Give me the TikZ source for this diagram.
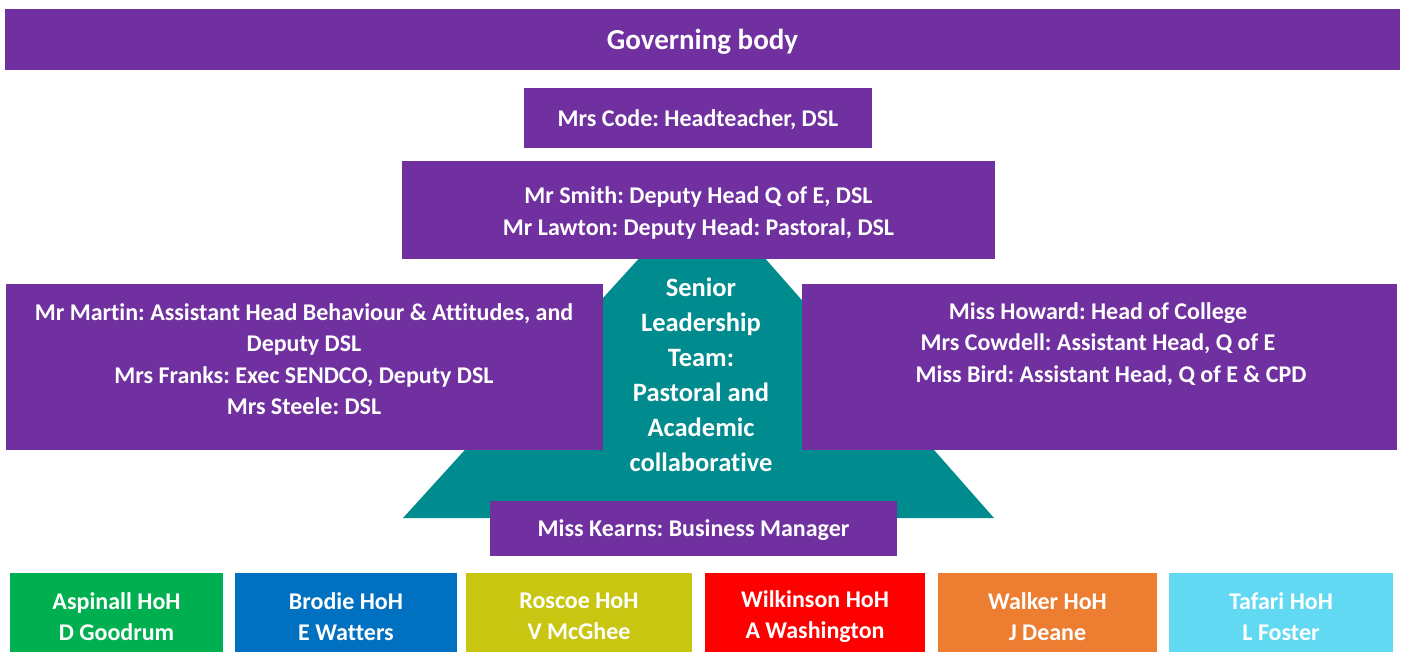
\documentclass[tikz,border=0pt]{standalone}
\usepackage{fontspec}
\setmainfont{Carlito}[Ligatures=NoCommon]
\usepackage{tikz}
\usetikzlibrary{positioning}

\definecolor{slpurple}{RGB}{112,48,160}
\definecolor{slteal}{RGB}{0,139,143}
\definecolor{hgreen}{RGB}{0,176,80}
\definecolor{hblue}{RGB}{0,112,192}
\definecolor{hyellow}{RGB}{201,198,18}
\definecolor{hred}{RGB}{255,0,0}
\definecolor{horange}{RGB}{237,125,49}
\definecolor{hcyan}{RGB}{98,217,242}

\frenchspacing
\tikzset{
    box/.style={fill=#1, inner sep=0pt},
    txt/.style={text=white, inner sep=0pt, align=center,
        font=\bfseries\fontsize{24}{31.5}\selectfont},
    slttxt/.style={text=white, inner sep=0pt, align=center,
        font=\bfseries\fontsize{26.5}{35}\selectfont},
}

\begin{document}
\begin{tikzpicture}[x=1pt,y=-1pt]
    \useasboundingbox (0,0) rectangle (1405,652);
    % Triangolo del team di leadership, dietro i riquadri
    \fill[slteal] (403,518) -- (703,188) -- (994,518) -- cycle;
    % Riquadri viola
    \node[box=slpurple, minimum width=1395, minimum height=61] (gov) at (702.5,39.5) {};
    \node[txt, font=\bfseries\fontsize{29}{35}\selectfont] (govtxt) at (702.5,41.5) {Governing body};
    \node[box=slpurple, minimum width=348, minimum height=60] (head) at (698,118) {};
    \node[txt] (headtxt) at (698,120) {Mrs Code: Headteacher, DSL};
    \node[box=slpurple, minimum width=593, minimum height=98] (deps) at (698.5,210) {};
    \node[txt] (depstxt) at (698.5,213) {Mr Smith: Deputy Head Q of E, DSL\\Mr Lawton: Deputy Head: Pastoral, DSL};
    \node[box=slpurple, minimum width=597, minimum height=166] (left) at (304.5,367) {};
    \node[txt] (lefttxt) at (304,359) {Mr Martin: Assistant Head Behaviour \& Attitudes, and\\Deputy DSL\\Mrs Franks: Exec SENDCO, Deputy DSL\\Mrs Steele: DSL};
    \node[box=slpurple, minimum width=595, minimum height=166] (right) at (1099.5,367) {};
    \node[txt] (righttxt) at (1098,344) {Miss Howard: Head of College\\Mrs Cowdell: Assistant Head, Q of E\\\hspace*{26pt}Miss Bird: Assistant Head, Q of E \& CPD};
    \node[slttxt] (slt) at (701,374.5) {Senior\\Leadership\\Team:\\Pastoral and\\Academic\\collaborative};
    \node[box=slpurple, minimum width=407, minimum height=55] (bm) at (693.5,528.5) {};
    \node[txt] (bmtxt) at (693.5,530.5) {Miss Kearns: Business Manager};
    % Riquadri dei capi di anno
    \foreach \name/\col/\xa/\xb/\hoh/\who in {asp/hgreen/10/223/Aspinall/D Goodrum,
            bro/hblue/235/457/Brodie/E Watters,
            ros/hyellow/466/692/Roscoe/V McGhee,
            wil/hred/705/925/Wilkinson/A Washington,
            wal/horange/938/1157/Walker/J Deane,
            taf/hcyan/1169/1393/Tafari/L Foster} {
        \node[box=\col, minimum width=\xb-\xa, minimum height=79] (\name) at ({(\xa+\xb)/2},612.5) {};
        \node[txt] (\name txt) at ({(\xa+\xb)/2},616.5) {\hoh\ HoH\\\who};
    }
\end{tikzpicture}
\end{document}
